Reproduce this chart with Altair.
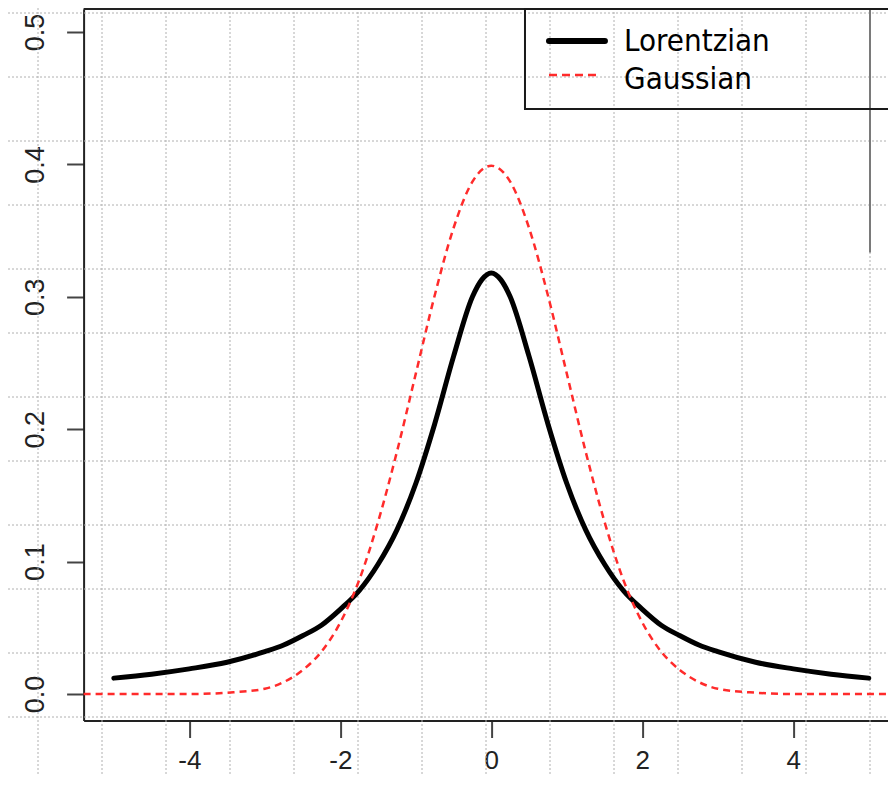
import altair as alt
import pandas as pd

# ---------------- data ----------------
LOR_X = [-5, -4.5, -4, -3.5, -3, -2.75, -2.5, -2.25, -2, -1.75, -1.5, -1.25, -1,
         -0.75, -0.5, -0.25, -0.125, 0, 0.125, 0.25, 0.5, 0.75, 1, 1.25, 1.5, 1.75,
         2, 2.25, 2.5, 2.75, 3, 3.5, 4, 4.5, 5]
LOR_Y = [0.012, 0.015, 0.019, 0.024, 0.032, 0.037, 0.044, 0.052, 0.064, 0.078, 0.098,
         0.124, 0.159, 0.204, 0.255, 0.300, 0.313, 0.318, 0.313, 0.300, 0.255, 0.204,
         0.159, 0.124, 0.098, 0.078, 0.064, 0.052, 0.044, 0.037, 0.032, 0.024, 0.019,
         0.015, 0.012]

GAU_X = [-5.4, -5, -4.5, -4, -3.5, -3, -2.75, -2.5, -2.25, -2, -1.75, -1.5, -1.25, -1,
         -0.75, -0.5, -0.25, 0, 0.25, 0.5, 0.75, 1, 1.25, 1.5, 1.75, 2, 2.25, 2.5,
         2.75, 3, 3.5, 4, 4.5, 5, 5.4]
GAU_Y = [0.0, 0.0, 0.0, 0.0, 0.001, 0.004, 0.009, 0.018, 0.032, 0.054, 0.086, 0.130,
         0.183, 0.242, 0.301, 0.352, 0.387, 0.399, 0.387, 0.352, 0.301, 0.242, 0.183,
         0.130, 0.086, 0.054, 0.032, 0.018, 0.009, 0.004, 0.001, 0.0, 0.0, 0.0, 0.0]

X_TICKS = [-4, -2, 0, 2, 4]
Y_TICKS = [0.0, 0.1, 0.2, 0.3, 0.4, 0.5]
LEGEND_LABELS = ["Lorentzian", "Gaussian"]

# background graph-paper grid (page pixel positions)
GRID_X_PX = [38, 102, 166, 230, 294, 358, 422, 486, 550, 614, 678, 742, 806, 870]
GRID_Y_PX = [13, 77, 141, 205, 269, 333, 397, 461, 525, 589, 653, 717, 781]

# ---------------- layout ----------------
X_MIN, X_MAX = -5.4, 5.254
Y_MIN, Y_MAX = -0.02, 0.5174
W, H = 804.4, 711.5
PAD = {"left": 75.6, "top": 1, "right": 0, "bottom": 53.5}
PX_LEFT, PX_RIGHT, PX_TOP, PX_BOTTOM = 83.6, 888, 9, 720.5

FONT = "Liberation Sans"
LEG_FONT = "DejaVu Sans Condensed, Liberation Sans"

# ---------------- grid layer (pixel scales) ----------------
gx_scale = alt.Scale(domain=[PX_LEFT, PX_RIGHT], zero=False, nice=False)
gy_scale = alt.Scale(domain=[PX_BOTTOM, PX_TOP], zero=False, nice=False)

vgrid_df = pd.DataFrame({"gx": GRID_X_PX, "gy0": 8, "gy1": 790})
hgrid_df = pd.DataFrame({"gy": GRID_Y_PX, "gx0": 8, "gx1": 896})
art_df = pd.DataFrame({"gx": [870], "gy0": [0], "gy1": [252.5]})

grid_style = dict(color="#b0b0b0", strokeWidth=1, strokeDash=[2, 2])
vgrid = alt.Chart(vgrid_df).mark_rule(**grid_style).encode(
    x=alt.X("gx:Q", scale=gx_scale, axis=None),
    y=alt.Y("gy0:Q", scale=gy_scale, axis=None),
    y2="gy1:Q",
)
hgrid = alt.Chart(hgrid_df).mark_rule(**grid_style).encode(
    y=alt.Y("gy:Q", scale=gy_scale, axis=None),
    x=alt.X("gx0:Q", scale=gx_scale, axis=None),
    x2="gx1:Q",
)
artifact = alt.Chart(art_df).mark_rule(color="#7a7a7a", strokeWidth=2).encode(
    x=alt.X("gx:Q", scale=gx_scale, axis=None),
    y=alt.Y("gy0:Q", scale=gy_scale, axis=None),
    y2="gy1:Q",
)
grid = alt.layer(vgrid, hgrid, artifact)

# ---------------- main plot ----------------
xs = alt.Scale(domain=[X_MIN, X_MAX], zero=False, nice=False)
ys = alt.Scale(domain=[Y_MIN, Y_MAX], zero=False, nice=False)

lor_df = pd.DataFrame({"x": LOR_X, "y": LOR_Y})
gau_df = pd.DataFrame({"x": GAU_X, "y": GAU_Y})

lor = alt.Chart(lor_df).mark_line(
    color="black", strokeWidth=5, strokeCap="round", strokeJoin="round",
    interpolate="monotone",
).encode(
    x=alt.X("x:Q", scale=xs, title=None,
            axis=alt.Axis(values=X_TICKS, labelExpr="toString(datum.value)", title=None,
                          labelBaseline="top", labelPadding=10, labelFontSize=26)),
    y=alt.Y("y:Q", scale=ys, title=None,
            axis=alt.Axis(values=Y_TICKS, format=".1f", title=None,
                          labelAngle=270, labelAlign="center",
                          labelBaseline="alphabetic", labelPadding=23)),
)

gau = alt.Chart(gau_df).mark_line(
    color="#ff2b2b", strokeWidth=2.5, strokeDash=[7, 5], interpolate="monotone",
).encode(
    x=alt.X("x:Q", scale=xs, title=None),
    y=alt.Y("y:Q", scale=ys, title=None),
)

top_rule = alt.Chart().mark_rule(color="#222222", strokeWidth=2).encode(
    x=alt.XDatum(X_MIN, scale=xs, title=None),
    x2=alt.X2Datum(X_MAX),
    y=alt.YDatum(Y_MAX, scale=ys, title=None),
)

# legend (drawn by hand, as in the original R legend box)
leg_box = alt.Chart().mark_rect(fillOpacity=0, stroke="#1a1a1a", strokeWidth=2).encode(
    x=alt.XDatum(0.446, scale=xs, title=None),
    x2=alt.X2Datum(6.0),
    y=alt.YDatum(0.4418, scale=ys, title=None),
    y2=alt.Y2Datum(Y_MAX),
)
leg_lor = alt.Chart().mark_rule(color="black", strokeWidth=6, strokeCap="round").encode(
    x=alt.XDatum(0.764, scale=xs, title=None),
    x2=alt.X2Datum(1.505),
    y=alt.YDatum(0.4932, scale=ys, title=None),
)
leg_gau = alt.Chart().mark_rule(color="#ff2b2b", strokeWidth=2.5, strokeDash=[8, 5]).encode(
    x=alt.XDatum(0.764, scale=xs, title=None),
    x2=alt.X2Datum(1.44),
    y=alt.YDatum(0.4675, scale=ys, title=None),
)
leg_text_df = pd.DataFrame({"label": LEGEND_LABELS, "ly": [0.4859, 0.4567]})
leg_text = alt.Chart(leg_text_df).mark_text(
    align="left", baseline="alphabetic", font=LEG_FONT, fontSize=31, color="black",
).encode(
    x=alt.XDatum(1.758, scale=xs, title=None),
    y=alt.Y("ly:Q", scale=ys, title=None),
    text="label:N",
)

main = alt.layer(lor, gau, top_rule, leg_box, leg_lor, leg_gau, leg_text)

chart = alt.layer(grid, main).resolve_scale(
    x="independent", y="independent"
).properties(
    width=W, height=H, padding=PAD, autosize=alt.AutoSizeParams(type="none"),
    background="white",
).configure_view(
    stroke=None
).configure_axis(
    domainColor="#222222", domainWidth=2, tickColor="#444444", tickWidth=2,
    tickSize=17, labelFont=FONT, labelFontSize=27, labelColor="#222222",
    grid=False,
)

chart.save("out.html", embed_options={"renderer": "svg", "actions": False})
